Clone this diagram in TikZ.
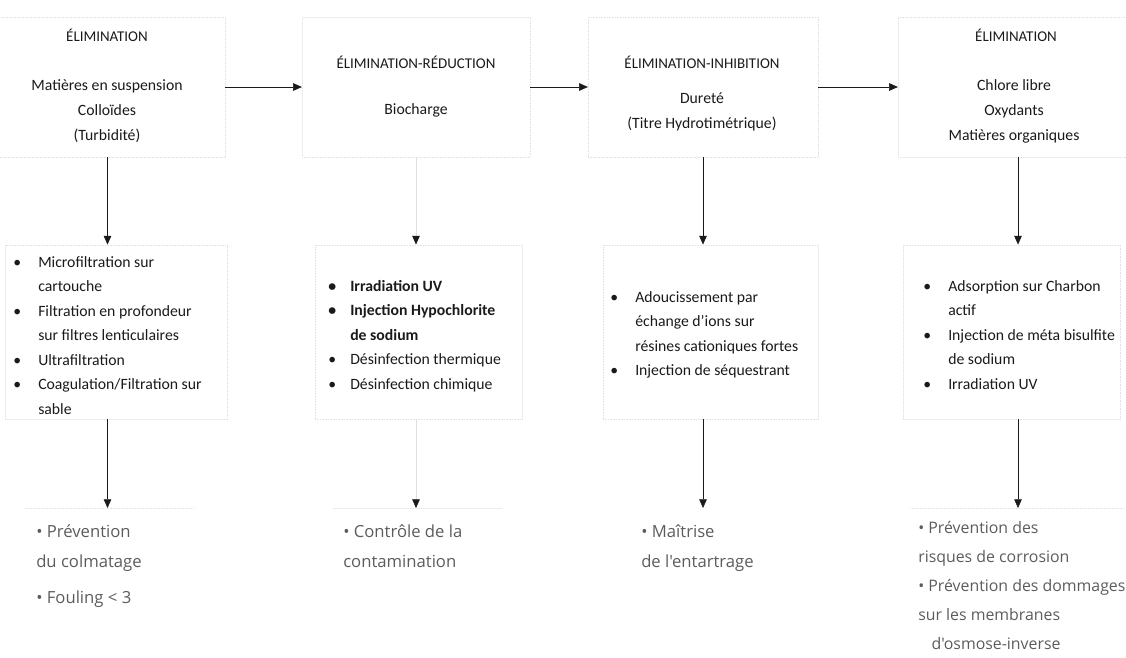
\documentclass[tikz,border=0pt]{standalone}
\usepackage{fontspec}
\setmainfont{Carlito}
\newfontfamily\lightfont{Open Sans}
\usepackage{tikz}
\usetikzlibrary{arrows.meta,positioning}
\definecolor{inkx}{HTML}{1A1A1A}
\definecolor{faint}{HTML}{E2E2E2}
\definecolor{soft}{HTML}{5C5C5C}
\tikzset{
  ar/.style={-{Triangle[length=2.3mm,width=2mm]},thin,inkx},
  pale/.style={-{Triangle[length=2.3mm,width=2mm,color=inkx]},thin,draw=black!12},
  frame/.style={draw=faint,densely dotted,very thin,inner sep=0pt},
  ttl/.style={font=\fontsize{11.2}{13}\selectfont,inkx,inner sep=0pt},
  txt/.style={font=\fontsize{11.8}{18.75}\selectfont,align=center,inkx,inner sep=0pt},
  lst/.style={font=\fontsize{11.8}{18.4}\selectfont,align=left,inkx,inner sep=0pt,anchor=north west},
  res/.style={font=\lightfont\fontsize{12.5}{22.5}\selectfont,align=left,soft,inner sep=0pt,anchor=north west}
}
\newcommand{\bul}[1]{\makebox[#1][l]{•}}
\newcommand{\ind}[1]{\hspace*{#1}}

\begin{document}
\begin{tikzpicture}[x=0.75pt,y=-0.75pt]
\useasboundingbox (0,0) rectangle (1126,657);
% cadres du haut
\node[frame,minimum width=176pt,minimum height=105pt] (hd1) at (107.5,87) {};
\node[frame,minimum width=171pt,minimum height=105pt] (hd2) at (416,87) {};
\node[frame,minimum width=172.5pt,minimum height=105pt] (hd3) at (703,87) {};
\node[frame,minimum width=180pt,minimum height=105pt] (hd4) at (1018,87) {};
\node[ttl] (t1) at (107,35) {ÉLIMINATION};
\node[ttl] (t2) at (416,62) {ÉLIMINATION-RÉDUCTION};
\node[ttl] (t3) at (702,62) {ÉLIMINATION-INHIBITION};
\node[ttl] (t4) at (1016,35) {ÉLIMINATION};
\node[txt] (c1) at (107,111) {Matières en suspension\\Colloïdes\\(Turbidité)};
\node[txt] (c2) at (416,110) {Biocharge};
\node[txt] (c3) at (702,112) {Dureté\\(Titre Hydrotimétrique)};
\node[txt] (c4) at (1014,111) {Chlore libre\\Oxydants\\Matières organiques};
% traitements
\node[frame,minimum width=166.5pt,minimum height=131pt] (ls1) at (116,332) {};
\node[frame,minimum width=155pt,minimum height=131pt] (ls2) at (418.5,332) {};
\node[frame,minimum width=161pt,minimum height=131pt] (ls3) at (710.5,332) {};
\node[frame,minimum width=163pt,minimum height=131pt] (ls4) at (1011.5,332) {};
\node[lst] (m1) at (13,256) {\bul{18.75pt}Microfiltration sur\\\ind{18.75pt}cartouche\\
  \bul{18.75pt}Filtration en profondeur\\\ind{18.75pt}sur filtres lenticulaires\\
  \bul{18.75pt}Ultrafiltration\\\bul{18.75pt}Coagulation/Filtration sur\\\ind{18.75pt}sable};
\node[lst] (m2) at (328,280) {\bfseries\bul{16.5pt}Irradiation UV\\\bfseries\bul{16.5pt}Injection Hypochlorite\\
  \bfseries\ind{16.5pt}de sodium\\\bul{16.5pt}Désinfection thermique\\\bul{16.5pt}Désinfection chimique};
\node[lst] (m3) at (610,291) {\bul{18.75pt}Adoucissement par\\\ind{18.75pt}échange d'ions sur\\
  \ind{18.75pt}résines cationiques fortes\\\bul{18.75pt}Injection de séquestrant};
\node[lst] (m4) at (923,280) {\bul{18.75pt}Adsorption sur Charbon\\\ind{18.75pt}actif\\
  \bul{18.75pt}Injection de méta bisulfite\\\ind{18.75pt}de sodium\\\bul{18.75pt}Irradiation UV};
% objectifs
\node[frame,draw=none,minimum width=127pt,minimum height=80pt,anchor=north west] (rs1) at (25,508) {};
\node[frame,draw=none,minimum width=127pt,minimum height=80pt,anchor=north west] (rs2) at (333,508) {};
\node[frame,draw=none,minimum width=127pt,minimum height=80pt,anchor=north west] (rs3) at (620,508) {};
\node[frame,draw=none,minimum width=160pt,minimum height=112pt,anchor=north west] (rs4) at (910,508) {};
\draw[faint,densely dotted,very thin] (rs1.north west) -- (rs1.north east);
\draw[faint,densely dotted,very thin] (rs2.north west) -- (rs2.north east);
\draw[faint,densely dotted,very thin] (rs4.north west) -- (rs4.north east);
\node[res] (o1) at (36,524) {• Prévention\\du colmatage\\[5pt]• Fouling < 3};
\node[res] (o2) at (343,524) {• Contrôle de la\\contamination};
\node[res] (o3) at (641,524) {• Maîtrise\\de l'entartrage};
\node[res,font=\lightfont\fontsize{11.9}{21.8}\selectfont] (o4) at (918,521) {• Prévention des\\risques de corrosion\\
  • Prévention des dommages\\sur les membranes\\\ind{10pt}d'osmose-inverse};
% fleches
\draw[ar] (hd1.east) -- (hd2.west);
\draw[ar] (hd2.east) -- (hd3.west);
\draw[ar] (hd3.east) -- (hd4.west);
\draw[ar] (hd1.south) -- (hd1.south |- ls1.north);
\draw[pale] (hd2.south) -- (hd2.south |- ls2.north);
\draw[ar] (hd3.south) -- (hd3.south |- ls3.north);
\draw[ar] (hd4.south) -- (hd4.south |- ls4.north);
\draw[ar] (hd1.south |- ls1.south) -- (hd1.south |- rs1.north);
\draw[pale] (hd2.south |- ls2.south) -- (hd2.south |- rs2.north);
\draw[ar] (hd3.south |- ls3.south) -- (hd3.south |- rs3.north);
\draw[ar] (hd4.south |- ls4.south) -- (hd4.south |- rs4.north);
\end{tikzpicture}
\end{document}
